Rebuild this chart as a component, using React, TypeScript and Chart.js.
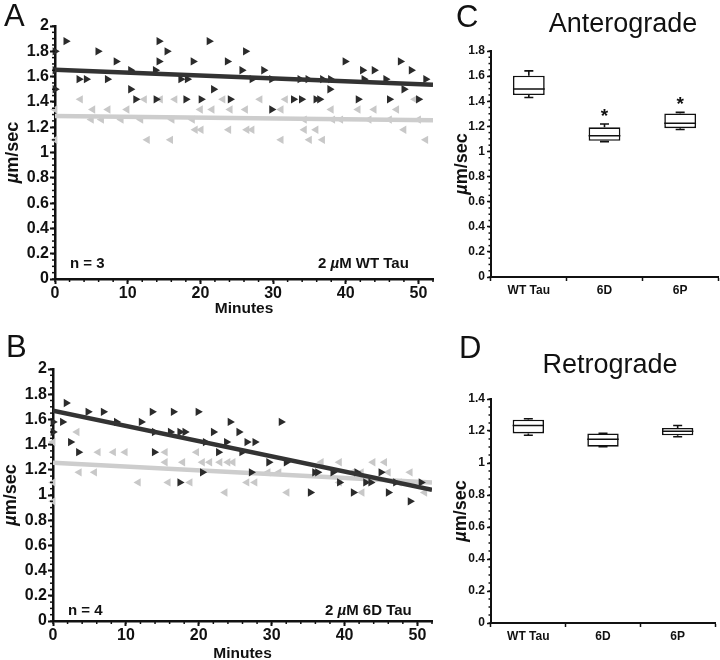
import React, { useEffect, useRef } from "react";
import { Chart, registerables } from "chart.js";
Chart.register(...registerables);

const FONT = "'Liberation Sans', Arial, Helvetica, sans-serif";
const INK = "#111111";
const DARK = "#2b2b2b";
const DARK_LINE = "#333333";
const LIGHT = "#c8c8c8";
const LIGHT_LINE = "#cdcdcd";

// ---------- Panel A (2 µM WT Tau) ----------
const A_ANT_MIN = [1.5, 14.3, 21.2, 0, 5.9, 15.4, 26.2, 8.4, 14.3, 19.0, 23.7, 39.9, 47.5, 0, 10.4, 13.8, 25.7, 28.7, 42.3, 43.9, 49, 3.3, 4.3, 7.2, 17.3, 18.2, 27.1, 29.8, 33.7, 34.8, 36.8, 37.9, 42.5, 45.5, 51, 0, 10.4, 21.8, 37.8, 48, 11.1, 13.9, 18.0, 20.1, 24.1, 32.8, 33.9, 35.9, 36.4, 41.7, 46, 50, 29.8];
const A_ANT_SPEED = [1.88, 1.88, 1.88, 1.8, 1.8, 1.8, 1.8, 1.72, 1.72, 1.72, 1.72, 1.72, 1.72, 1.65, 1.65, 1.65, 1.65, 1.65, 1.65, 1.65, 1.65, 1.58, 1.58, 1.58, 1.58, 1.58, 1.58, 1.58, 1.58, 1.58, 1.58, 1.58, 1.58, 1.58, 1.58, 1.5, 1.5, 1.5, 1.5, 1.5, 1.42, 1.42, 1.42, 1.42, 1.42, 1.42, 1.42, 1.42, 1.42, 1.42, 1.42, 1.42, 1.34];
const A_RET_MIN = [3.5, 12.3, 14.5, 16.5, 23.1, 28.2, 31.7, 49.5, 0, 5.2, 7.3, 9.9, 20.0, 21.6, 24.1, 26.2, 31.1, 38.0, 41.7, 43.9, 47, 5.0, 6.4, 9.1, 11.8, 16.1, 18.9, 34.3, 38.2, 39.3, 43.2, 46, 50, 19.3, 20.1, 23.9, 26.4, 27.1, 34.3, 35.9, 48, 0, 12.7, 15.9, 31.1, 35.0, 36.8, 51];
const A_RET_SPEED = [1.42, 1.42, 1.42, 1.42, 1.42, 1.42, 1.42, 1.42, 1.34, 1.34, 1.34, 1.34, 1.34, 1.34, 1.34, 1.34, 1.34, 1.34, 1.34, 1.34, 1.34, 1.26, 1.26, 1.26, 1.26, 1.26, 1.26, 1.26, 1.26, 1.26, 1.26, 1.26, 1.26, 1.18, 1.18, 1.18, 1.18, 1.18, 1.18, 1.18, 1.18, 1.1, 1.1, 1.1, 1.1, 1.1, 1.1, 1.1];
const FIT_MIN = [0, 52];
const A_ANT_FIT = [1.655, 1.536];
const A_RET_FIT = [1.289, 1.254];

// ---------- Panel B (2 µM 6D Tau) ----------
const B_ANT_MIN = [1.8, 4.8, 6.9, 13.6, 16.5, 19.9, 0, 1.3, 8.7, 12.1, 24.3, 31.3, 0, 13.9, 16.1, 17.4, 18.1, 22.0, 25.5, 2.4, 20.9, 23.8, 26.6, 27.7, 3.5, 13.9, 22.7, 25.9, 29.6, 32.0, 20.5, 27.2, 35.9, 36.3, 38.4, 41.7, 45, 17.4, 39.3, 42.9, 43.6, 47, 50.5, 35.3, 41.2, 46, 49];
const B_ANT_SPEED = [1.73, 1.66, 1.66, 1.66, 1.66, 1.66, 1.58, 1.58, 1.58, 1.58, 1.58, 1.58, 1.5, 1.5, 1.5, 1.5, 1.5, 1.5, 1.5, 1.42, 1.42, 1.42, 1.42, 1.42, 1.34, 1.34, 1.34, 1.34, 1.26, 1.26, 1.18, 1.18, 1.18, 1.18, 1.18, 1.18, 1.18, 1.1, 1.1, 1.1, 1.1, 1.1, 1.1, 1.02, 1.02, 1.02, 0.95];
const B_RET_MIN = [3.3, 0, 6.2, 8.3, 9.9, 15.4, 19.7, 15.4, 17.8, 20.5, 21.5, 22.9, 24.0, 24.7, 36.8, 39.3, 43.9, 45.5, 3.6, 5.7, 29.5, 31.0, 41.1, 42.3, 46, 49, 0, 11.7, 15.8, 18.8, 26.6, 27.7, 39.3, 47.5, 23.6, 32.1, 42.4, 51, 0];
const B_RET_SPEED = [1.5, 1.42, 1.34, 1.34, 1.34, 1.34, 1.34, 1.26, 1.26, 1.26, 1.26, 1.26, 1.26, 1.26, 1.26, 1.26, 1.26, 1.26, 1.18, 1.18, 1.18, 1.18, 1.18, 1.18, 1.18, 1.18, 1.1, 1.1, 1.1, 1.1, 1.1, 1.1, 1.1, 1.1, 1.02, 1.02, 1.02, 1.02, 0.95];
const B_ANT_FIT = [1.669, 1.041];
const B_RET_FIT = [1.256, 1.099];

// ---------- Panels C / D (box plots) ----------
const CATEGORIES = ["WT Tau", "6D", "6P"];
const ANT_MIN = [1.43, 1.078, 1.175];
const ANT_Q1 = [1.449, 1.085, 1.185];
const ANT_MED = [1.497, 1.125, 1.224];
const ANT_Q3 = [1.603, 1.192, 1.303];
const ANT_MAX = [1.642, 1.218, 1.311];
const ANT_SIG = [false, true, true];
const RET_MIN = [1.173, 1.102, 1.164];
const RET_Q1 = [1.185, 1.102, 1.173];
const RET_MED = [1.234, 1.148, 1.198];
const RET_Q3 = [1.271, 1.185, 1.219];
const RET_MAX = [1.277, 1.185, 1.234];
const RET_SIG = [false, false, false];

type Part = { t: string; italic?: boolean };

const fmtTick = (v: number | string) => String(Math.round(Number(v) * 10) / 10);

function richText(ctx: CanvasRenderingContext2D, parts: Part[], x: number, y: number, size: number, weight: string, align: "left" | "center" | "right") {
  const fontOf = (p: Part) => `${p.italic ? "italic " : ""}${weight} ${size}px ${FONT}`;
  const widths = parts.map((p) => {
    ctx.font = fontOf(p);
    return ctx.measureText(p.t).width;
  });
  const total = widths.reduce((a, b) => a + b, 0);
  let cx = align === "left" ? x : align === "center" ? x - total / 2 : x - total;
  ctx.textAlign = "left";
  parts.forEach((p, i) => {
    ctx.font = fontOf(p);
    ctx.fillText(p.t, cx, y);
    cx += widths[i];
  });
}

function drawMinor(chart: any, axis: "x" | "y", step: number, len: number) {
  const s = chart.scales[axis];
  const ctx = chart.ctx as CanvasRenderingContext2D;
  const ca = chart.chartArea;
  ctx.save();
  ctx.strokeStyle = INK;
  ctx.lineWidth = 1.5;
  const n = Math.round((s.max - s.min) / step);
  for (let i = 0; i <= n; i++) {
    const p = s.getPixelForValue(s.min + i * step);
    ctx.beginPath();
    if (axis === "y") {
      ctx.moveTo(ca.left, p);
      ctx.lineTo(ca.left - len, p);
    } else {
      ctx.moveTo(p, ca.bottom);
      ctx.lineTo(p, ca.bottom + len);
    }
    ctx.stroke();
  }
  ctx.restore();
}

function yTitle(ctx: CanvasRenderingContext2D, x: number, yc: number, size: number) {
  ctx.save();
  ctx.translate(x, yc);
  ctx.rotate(-Math.PI / 2);
  ctx.fillStyle = INK;
  ctx.textBaseline = "middle";
  richText(ctx, [{ t: "µ", italic: true }, { t: "m/sec" }], 0, 0, size, "bold", "center");
  ctx.restore();
}

const zip = (xs: number[], ys: number[]) => xs.map((x, i) => ({ x, y: ys[i] }));

type ScatterCfg = {
  antMin: number[]; antSpeed: number[]; retMin: number[]; retSpeed: number[];
  antFit: number[]; retFit: number[];
  yW: number; xH: number; padTop: number; padRight: number;
  letter: string; letterX: number; letterY: number;
  nText: string; nOff: number; tau: string; tauX: number;
  titleX: number; minutesOff: number;
};

function makeScatter(canvas: HTMLCanvasElement, c: ScatterCfg) {
  const tickFont = { family: FONT, size: 16, weight: "bold" as const };
  const decor = {
    id: "decor",
    afterDraw(chart: any) {
      const ctx = chart.ctx as CanvasRenderingContext2D;
      const ca = chart.chartArea;
      drawMinor(chart, "y", 0.05, 3);
      drawMinor(chart, "x", 2, 3);
      ctx.save();
      ctx.fillStyle = INK;
      ctx.textBaseline = "alphabetic";
      richText(ctx, [{ t: c.letter }], c.letterX, c.letterY, 31, "normal", "left");
      richText(ctx, [{ t: c.nText }], ca.left + 15, ca.bottom - c.nOff, 15, "bold", "left");
      richText(ctx, [{ t: "2 " }, { t: "µ", italic: true }, { t: "M " + c.tau }], c.tauX, ca.bottom - c.nOff, 15, "bold", "left");
      richText(ctx, [{ t: "Minutes" }], (ca.left + ca.right) / 2, ca.bottom + c.minutesOff, 15.5, "bold", "center");
      ctx.restore();
      yTitle(ctx, c.titleX, (ca.top + ca.bottom) / 2, 18);
    },
  };
  return new Chart(canvas, {
    type: "scatter",
    data: {
      datasets: [
        { label: "ant fit", data: zip(FIT_MIN, c.antFit), showLine: true, borderColor: DARK_LINE, borderWidth: 4.5, pointRadius: 0, order: 0 } as any,
        { label: "anterograde", data: zip(c.antMin, c.antSpeed), pointStyle: "triangle", pointRotation: 90, pointRadius: 4.8, backgroundColor: DARK, borderWidth: 0, order: 1, clip: false } as any,
        { label: "ret fit", data: zip(FIT_MIN, c.retFit), showLine: true, borderColor: LIGHT_LINE, borderWidth: 4.5, pointRadius: 0, order: 2 } as any,
        { label: "retrograde", data: zip(c.retMin, c.retSpeed), pointStyle: "triangle", pointRotation: -90, pointRadius: 4.8, backgroundColor: LIGHT, borderWidth: 0, order: 3, clip: false } as any,
      ],
    },
    options: {
      responsive: false,
      animation: false,
      events: [],
      layout: { padding: { left: 0, top: c.padTop, right: c.padRight, bottom: 0 } },
      plugins: { legend: { display: false }, tooltip: { enabled: false } },
      scales: {
        x: {
          type: "linear", min: 0, max: 52,
          afterFit: (s: any) => { s.height = c.xH; },
          ticks: { stepSize: 10, includeBounds: false, font: tickFont, color: INK, padding: 0, maxRotation: 0, autoSkip: false, callback: fmtTick },
          grid: { drawOnChartArea: false, drawTicks: true, tickLength: 5, tickWidth: 2, tickColor: INK },
          border: { display: true, color: INK, width: 2.5 },
        },
        y: {
          type: "linear", min: 0, max: 2,
          afterFit: (s: any) => { s.width = c.yW; },
          ticks: { stepSize: 0.2, font: tickFont, color: INK, padding: 1, autoSkip: false, callback: fmtTick },
          grid: { drawOnChartArea: false, drawTicks: true, tickLength: 5, tickWidth: 2, tickColor: INK },
          border: { display: true, color: INK, width: 2.5 },
        },
      },
    } as any,
    plugins: [decor],
  });
}

type BoxCfg = {
  mins: number[]; q1: number[]; med: number[]; q3: number[]; maxs: number[]; sig: boolean[];
  yMax: number; yW: number; xH: number; padTop: number; padRight: number;
  letter: string; letterX: number; letterY: number;
  title: string; titleX: number; titleY: number; yTitleX: number;
};

function makeBox(canvas: HTMLCanvasElement, c: BoxCfg) {
  const tickFont = { family: FONT, size: 12, weight: "bold" as const };
  const decor = {
    id: "boxdecor",
    afterDatasetsDraw(chart: any) {
      const ctx = chart.ctx as CanvasRenderingContext2D;
      const y = chart.scales.y;
      const meta = chart.getDatasetMeta(0);
      ctx.save();
      ctx.strokeStyle = INK;
      ctx.lineWidth = 1.6;
      meta.data.forEach((bar: any, i: number) => {
        const half = bar.width / 2;
        const cap = 4.5;
        const pm = y.getPixelForValue(c.med[i]);
        const pq1 = y.getPixelForValue(c.q1[i]);
        const pq3 = y.getPixelForValue(c.q3[i]);
        const pmin = y.getPixelForValue(c.mins[i]);
        const pmax = y.getPixelForValue(c.maxs[i]);
        ctx.beginPath();
        ctx.moveTo(bar.x - half, pm); ctx.lineTo(bar.x + half, pm);
        ctx.moveTo(bar.x, pq3); ctx.lineTo(bar.x, pmax);
        ctx.moveTo(bar.x - cap, pmax); ctx.lineTo(bar.x + cap, pmax);
        ctx.moveTo(bar.x, pq1); ctx.lineTo(bar.x, pmin);
        ctx.moveTo(bar.x - cap, pmin); ctx.lineTo(bar.x + cap, pmin);
        ctx.stroke();
        if (c.sig[i]) {
          ctx.fillStyle = INK;
          ctx.font = `bold 19px ${FONT}`;
          ctx.textAlign = "center";
          ctx.textBaseline = "alphabetic";
          ctx.fillText("*", bar.x, pmax - 12 + 10);
        }
      });
      ctx.restore();
    },
    afterDraw(chart: any) {
      const ctx = chart.ctx as CanvasRenderingContext2D;
      const ca = chart.chartArea;
      drawMinor(chart, "y", 0.05, 2.5);
      ctx.save();
      ctx.fillStyle = INK;
      ctx.textBaseline = "alphabetic";
      richText(ctx, [{ t: c.letter }], c.letterX, c.letterY, 31, "normal", "left");
      richText(ctx, [{ t: c.title }], c.titleX, c.titleY, 27, "normal", "center");
      ctx.restore();
      yTitle(ctx, c.yTitleX, (ca.top + ca.bottom) / 2, 18);
    },
  };
  return new Chart(canvas, {
    type: "bar",
    data: {
      labels: CATEGORIES,
      datasets: [
        {
          label: "box",
          data: CATEGORIES.map((_, i) => [c.q1[i], c.q3[i]]),
          backgroundColor: "#ffffff",
          borderColor: INK,
          borderWidth: 1.6,
          borderSkipped: false,
          barPercentage: 0.42,
          categoryPercentage: 1,
        } as any,
      ],
    },
    options: {
      responsive: false,
      animation: false,
      events: [],
      layout: { padding: { left: 0, top: c.padTop, right: c.padRight, bottom: 0 } },
      plugins: { legend: { display: false }, tooltip: { enabled: false } },
      scales: {
        x: {
          afterFit: (s: any) => { s.height = c.xH; },
          ticks: { font: tickFont, color: INK, padding: 2, maxRotation: 0 },
          grid: { offset: true, drawOnChartArea: false, drawTicks: true, tickLength: 4, tickWidth: 1.5, tickColor: INK },
          border: { display: true, color: INK, width: 2 },
        },
        y: {
          type: "linear", min: 0, max: c.yMax,
          afterFit: (s: any) => { s.width = c.yW; },
          ticks: { stepSize: 0.2, font: tickFont, color: INK, padding: 2, autoSkip: false, callback: fmtTick },
          grid: { drawOnChartArea: false, drawTicks: true, tickLength: 4, tickWidth: 1.5, tickColor: INK },
          border: { display: true, color: INK, width: 2 },
        },
      },
    } as any,
    plugins: [decor],
  });
}

export default function App() {
  const aRef = useRef<HTMLCanvasElement>(null);
  const bRef = useRef<HTMLCanvasElement>(null);
  const cRef = useRef<HTMLCanvasElement>(null);
  const dRef = useRef<HTMLCanvasElement>(null);

  useEffect(() => {
    const charts: Chart[] = [];
    charts.push(
      makeScatter(aRef.current!, {
        antMin: A_ANT_MIN, antSpeed: A_ANT_SPEED, retMin: A_RET_MIN, retSpeed: A_RET_SPEED,
        antFit: A_ANT_FIT, retFit: A_RET_FIT,
        yW: 55, xH: 41, padTop: 26, padRight: 7,
        letter: "A", letterX: 4, letterY: 26,
        nText: "n = 3", nOff: 11, tau: "WT Tau", tauX: 318,
        titleX: 13, minutesOff: 34,
      })
    );
    charts.push(
      makeScatter(bRef.current!, {
        antMin: B_ANT_MIN, antSpeed: B_ANT_SPEED, retMin: B_RET_MIN, retSpeed: B_RET_SPEED,
        antFit: B_ANT_FIT, retFit: B_RET_FIT,
        yW: 53, xH: 39, padTop: 49, padRight: 8,
        letter: "B", letterX: 6, letterY: 37,
        nText: "n = 4", nOff: 6, tau: "6D Tau", tauX: 325,
        titleX: 11, minutesOff: 37,
      })
    );
    charts.push(
      makeBox(cRef.current!, {
        mins: ANT_MIN, q1: ANT_Q1, med: ANT_MED, q3: ANT_Q3, maxs: ANT_MAX, sig: ANT_SIG,
        yMax: 1.8, yW: 51, xH: 43, padTop: 51, padRight: 2,
        letter: "C", letterX: 16, letterY: 27,
        title: "Anterograde", titleX: 183, titleY: 32, yTitleX: 22,
      })
    );
    charts.push(
      makeBox(dRef.current!, {
        mins: RET_MIN, q1: RET_Q1, med: RET_MED, q3: RET_Q3, maxs: RET_MAX, sig: RET_SIG,
        yMax: 1.4, yW: 51, xH: 37, padTop: 79, padRight: 5,
        letter: "D", letterX: 19, letterY: 38,
        title: "Retrograde", titleX: 170, titleY: 53, yTitleX: 21,
      })
    );
    return () => charts.forEach((ch) => ch.destroy());
  }, []);

  const abs = (left: number, top: number): React.CSSProperties => ({ position: "absolute", left, top, display: "block" });

  return (
    <div style={{ position: "absolute", left: 0, top: 0, width: 720, height: 660, background: "#fff", overflow: "hidden" }}>
      <canvas ref={aRef} width={440} height={320} style={abs(0, 0)} />
      <canvas ref={bRef} width={440} height={340} style={abs(0, 320)} />
      <canvas ref={cRef} width={280} height={320} style={abs(440, 0)} />
      <canvas ref={dRef} width={280} height={340} style={abs(440, 320)} />
    </div>
  );
}
